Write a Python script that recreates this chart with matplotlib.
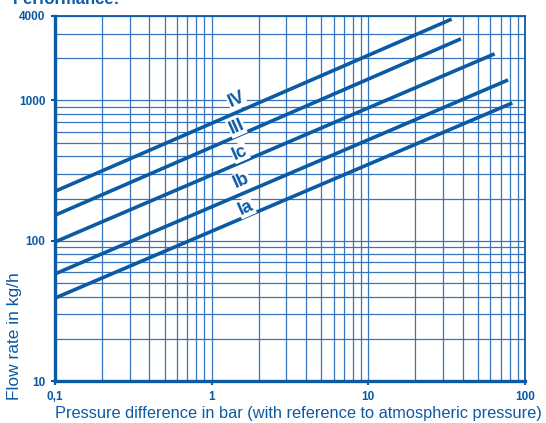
import matplotlib
matplotlib.use("Agg")
import matplotlib.pyplot as plt
from matplotlib.ticker import LogLocator, NullFormatter

plt.rcParams['font.family'] = ['Liberation Sans', 'DejaVu Sans']

# curve data (pressure difference in bar, flow rate in kg/h)
curve_names = ["IV", "III", "Ic", "Ib", "Ia"]
pressure = [[0.1, 34], [0.1, 39], [0.1, 64], [0.1, 78], [0.1, 83]]
flow = [[225, 3800], [152, 2750], [98, 2150], [58, 1400], [39, 960]]

# where the curve labels sit
label_x = [1.44, 1.44, 1.51, 1.55, 1.65]
label_y = [1010, 645, 425, 268, 172]

xticks = [0.1, 1, 10, 100]
xtick_labels = ["0,1", "1", "10", "100"]
yticks = [10, 100, 1000, 4000]
ytick_labels = ["10", "100", "1000", "4000"]

blue = "#0b5aa6"
grid_blue = "#3675bd"

fig = plt.figure(figsize=(5.46, 4.23), dpi=100)
ax = fig.add_axes([55/546, 1 - 381/423, 470/546, 365/423])

ax.set_xscale("log")
ax.set_yscale("log")
ax.set_xlim(0.1, 100)
ax.set_ylim(10, 4000)

ax.xaxis.set_minor_locator(LogLocator(base=10, subs=range(2, 10)))
ax.yaxis.set_minor_locator(LogLocator(base=10, subs=range(2, 10)))
ax.xaxis.set_minor_formatter(NullFormatter())
ax.yaxis.set_minor_formatter(NullFormatter())
ax.grid(which="both", color=grid_blue, linewidth=0.9)
ax.set_axisbelow(True)

ax.set_xticks(xticks, xtick_labels)
ax.set_yticks(yticks, ytick_labels)
ax.tick_params(which="minor", length=0)
ax.tick_params(which="major", length=3, width=1.5, color=blue,
               labelcolor=blue, labelsize=8.5, pad=4)
for lab in ax.get_xticklabels() + ax.get_yticklabels():
    lab.set_fontweight("bold")

for side in ["left", "bottom"]:
    ax.spines[side].set_linewidth(2.4)
    ax.spines[side].set_color(blue)
for side in ["top", "right"]:
    ax.spines[side].set_linewidth(1.3)
    ax.spines[side].set_color(blue)

for i in range(len(curve_names)):
    ax.plot(pressure[i], flow[i], color=blue, linewidth=2.6,
            solid_capstyle="butt", zorder=3)
    ax.text(label_x[i], label_y[i], curve_names[i], color=blue, fontsize=13,
            fontweight="bold", rotation=24, ha="center", va="center", zorder=4,
            bbox=dict(facecolor="white", edgecolor="none", pad=0.5))

fig.text(55/546, 1 - 413/423, "Pressure difference in bar (with reference to atmospheric pressure)",
         color=blue, fontsize=11.8, ha="left", va="center")
fig.text(15/546, 1 - 336/423, "Flow rate in kg/h", color=blue, fontsize=12.5,
         rotation=90, ha="center", va="center")
fig.text(13/546, 1 - 4/423, "Performance:", color=blue, fontsize=12,
         fontweight="bold", ha="left", va="baseline")

fig.savefig("out.png", dpi=100)
